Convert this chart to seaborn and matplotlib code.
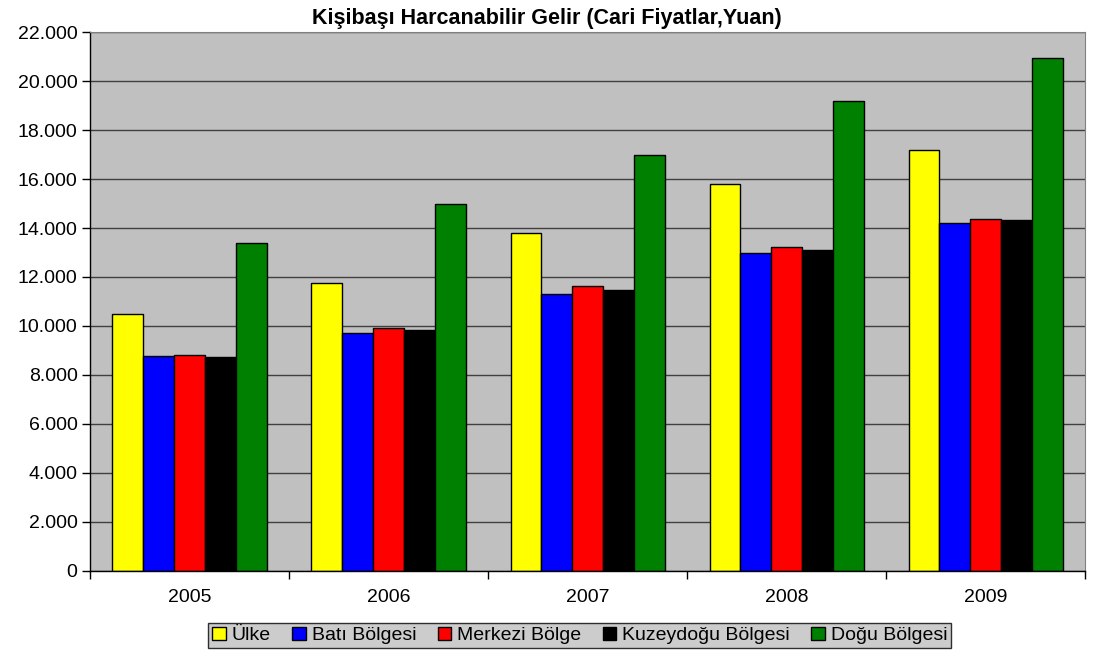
import pandas as pd
import matplotlib
matplotlib.use('Agg')
import matplotlib.pyplot as plt
import matplotlib.ticker as mticker
import seaborn as sns

# data
years = ['2005', '2006', '2007', '2008', '2009']
regions = ['Ülke', 'Batı Bölgesi', 'Merkezi Bölge', 'Kuzeydoğu Bölgesi', 'Doğu Bölgesi']
ulke = [10493, 11759, 13786, 15781, 17175]
bati = [8783, 9728, 11309, 12971, 14213]
merkezi = [8809, 9902, 11634, 13226, 14367]
kuzeydogu = [8730, 9830, 11463, 13120, 14324]
dogu = [13375, 14967, 16974, 19203, 20953]
colors = ['#FFFF00', '#0000FF', '#FF0000', '#000000', '#008000']

rows = []
for reg, vals in zip(regions, [ulke, bati, merkezi, kuzeydogu, dogu]):
    for y, v in zip(years, vals):
        rows.append({'year': y, 'region': reg, 'value': v})
df = pd.DataFrame(rows)

sns.set_style('white')
plt.rcParams['font.family'] = ['Liberation Sans', 'DejaVu Sans']
plt.rcParams['text.color'] = 'black'
plt.rcParams['xtick.color'] = 'black'
plt.rcParams['ytick.color'] = 'black'

fig = plt.figure(figsize=(10.94, 6.56), dpi=100)
ax = fig.add_axes([0.0823, 0.1296, 0.9097, 0.8216])
ax.set_facecolor('#C0C0C0')

sns.barplot(data=df, x='year', y='value', hue='region', palette=colors,
            order=years, hue_order=regions, width=0.775, saturation=1,
            edgecolor='black', linewidth=1, ax=ax, legend=False)

#gridlines and axes
ax.set_ylim(0, 22000)
ax.set_xlim(-0.5, 4.5)
ax.yaxis.set_major_locator(mticker.MultipleLocator(2000))
ax.yaxis.set_major_formatter(mticker.FuncFormatter(lambda v, p: f'{int(v):,}'.replace(',', '.')))
ax.grid(axis='y', color='#404040', linewidth=1)
ax.set_axisbelow(True)
ax.set_xlabel('')
ax.set_ylabel('')
ax.tick_params(axis='y', which='major', left=True, length=6, width=1, labelsize=14,
               color='black', labelcolor='black', pad=3)
ax.tick_params(axis='x', which='major', length=0, labelsize=14, labelcolor='black', pad=13)
ax.set_xticks([i + 0.5 for i in range(-1, 5)], minor=True)
ax.tick_params(axis='x', which='minor', bottom=True, length=6, width=1, color='black')
for s in ['top', 'right']:
    ax.spines[s].set_color('#808080')
for s in ['left', 'bottom']:
    ax.spines[s].set_color('black')
    ax.spines[s].set_linewidth(1)

fig.text(0.5, 0.972, 'Kişibaşı Harcanabilir Gelir (Cari Fiyatlar,Yuan)',
         ha='center', va='center', fontsize=15.5, fontweight='bold', color='black')

handles = [plt.Rectangle((0, 0), 1, 1, facecolor=c, edgecolor='black', linewidth=1) for c in colors]
leg = fig.legend(handles, regions, loc='center', bbox_to_anchor=(0.530, 0.031), ncol=5,
                 fontsize=14, frameon=True, fancybox=False, facecolor='#C0C0C0',
                 edgecolor='black', handlelength=0.7, handleheight=0.7,
                 handletextpad=0.3, columnspacing=1.1, borderpad=0.2, borderaxespad=0)
leg.get_frame().set_linewidth(1)
for t in leg.get_texts():
    t.set_color('black')

plt.savefig('out.png', dpi=100)
